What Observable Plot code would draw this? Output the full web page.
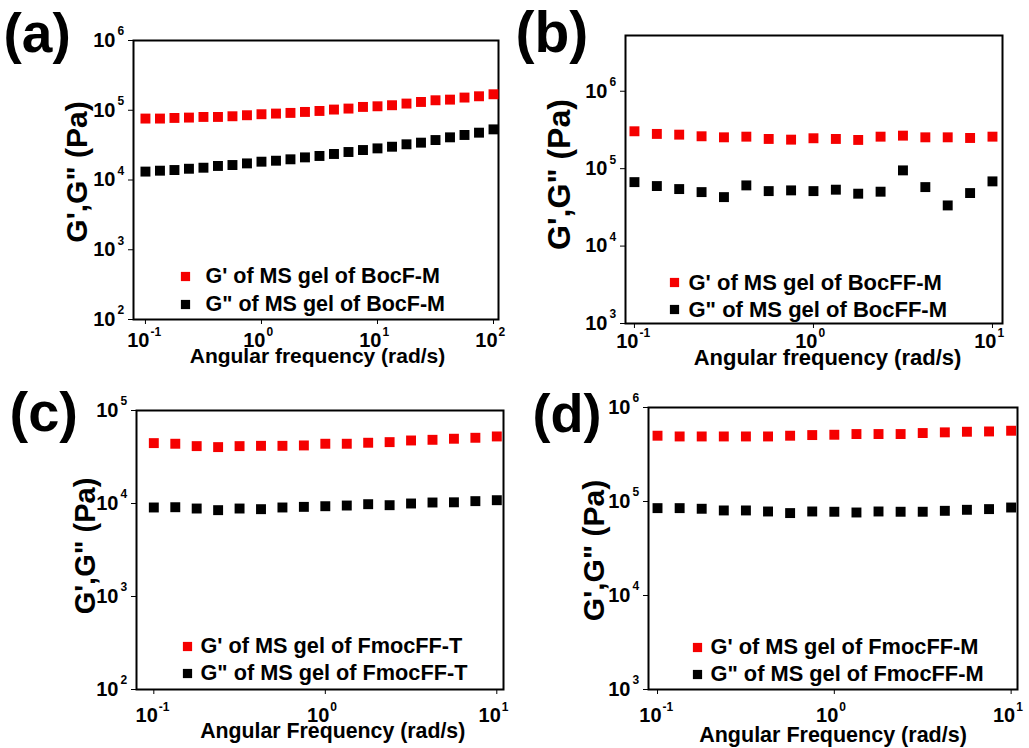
<!DOCTYPE html>
<html><head><meta charset="utf-8">
<script src="https://cdn.jsdelivr.net/npm/d3@7"></script>
<script src="https://cdn.jsdelivr.net/npm/@observablehq/plot@0.6"></script>
<style>
html,body{margin:0;padding:0;background:#fff;}
#root{position:relative;width:1029px;height:748px;overflow:hidden;background:#fff;}
.panel{position:absolute;}
</style></head><body><div id="root"></div>
<script>
// ---------- data ----------
const freqA = [0.1,0.1334,0.1778,0.2371,0.3162,0.4217,0.5623,0.7499,1,1.334,1.778,2.371,3.162,4.217,5.623,7.499,10,13.34,17.78,23.71,31.62,42.17,56.23,74.99,100];
const freqBCD = [0.1,0.1334,0.1778,0.2371,0.3162,0.4217,0.5623,0.7499,1,1.334,1.778,2.371,3.162,4.217,5.623,7.499,10];

const gpA  = [76000,76000,77600,78500,80200,80200,82000,84800,87700,89600,91600,94600,97700,102300,105700,111600,114000,118000,124700,131500,139000,142000,152000,158600,169500];
const gppA = [13200,13600,13900,14500,15000,15900,16400,17300,18300,18900,19800,21100,22100,23600,25200,26900,28400,30000,32500,34300,37400,40900,44200,47700,53200];

const gpB  = [304000,281000,275000,262000,254000,259000,242000,237000,247000,242000,235000,259000,267000,254000,254000,249000,259000];
const gppB = [67000,59600,54500,49800,42900,60800,51300,52400,51300,53500,47500,50400,95000,57800,33500,48400,68500];

const gpC  = [44600,43900,41400,40400,41400,41700,41700,42100,43900,43900,45000,45700,47600,48400,49700,50900,52600];
const gppC = [9060,9120,8830,8480,8830,8690,9060,9200,9350,9510,9830,9590,10000,10250,10300,10600,10850];

const gpD  = [501000,492000,492000,492000,492000,492000,501000,509000,513000,522000,522000,522000,535000,544000,552000,556000,566000];
const gppD = [85000,85000,83700,80300,80300,78300,75300,78300,77800,76400,78300,77800,77800,79600,81600,83000,86300];

const xTicksA = [0.1,1,10,100];
const xTicksBCD = [0.1,1,10];
const yTicksA = [1e2,1e3,1e4,1e5,1e6];
const yTicksB = [1e3,1e4,1e5,1e6];
const yTicksC = [1e2,1e3,1e4,1e5];
const yTicksD = [1e3,1e4,1e5,1e6];

const legendA = ["G' of MS gel of BocF-M", "G\" of MS gel of BocF-M"];
const legendB = ["G' of MS gel of BocFF-M", "G\" of MS gel of BocFF-M"];
const legendC = ["G' of MS gel of FmocFF-T", "G\" of MS gel of FmocFF-T"];
const legendD = ["G' of MS gel of FmocFF-M", "G\" of MS gel of FmocFF-M"];

const yTitle = "G',G\" (Pa)";
const xTitleLower = "Angular frequency (rad/s)";
const xTitleUpper = "Angular Frequency (rad/s)";
const panelLabels = ["(a)","(b)","(c)","(d)"];

// ---------- drawing ----------
const FONT = "'Liberation Sans', Arial, Helvetica, sans-serif";
const RED = "#f50000", BLACK = "#000";

function panel(c) {
  const expo = d => { const e = Math.round(Math.log10(d)); return e < 0 ? "-" + (-e) : String(e); };
  const ptsR = c.freq.map((f, i) => ({f, v: c.gp[i]}));
  const ptsK = c.freq.map((f, i) => ({f, v: c.gpp[i]}));
  const bold = {fontWeight: "bold", fontFamily: FONT, fill: "#000"};
  const svg = Plot.plot({
    width: c.W, height: c.H,
    marginLeft: c.mL, marginRight: c.mR, marginTop: c.mT, marginBottom: c.mB,
    style: {fontFamily: FONT, background: "transparent", overflow: "visible"},
    x: {type: "log", domain: c.xDomain, ticks: c.xTicks, tickSize: 5, tickFormat: () => "", label: null},
    y: {type: "log", domain: c.yDomain, ticks: c.yTicks, tickSize: 5, tickFormat: () => "", label: null},
    marks: [
      Plot.frame({stroke: "#000", strokeWidth: 2}),
      Plot.dot(ptsR, {x: "f", y: "v", symbol: "square", r: 5.6, fill: RED, stroke: null}),
      Plot.dot(ptsK, {x: "f", y: "v", symbol: "square", r: 5.6, fill: BLACK, stroke: null}),
      // y tick labels
      Plot.text(c.yTicks, {y: d => d, frameAnchor: "left", text: () => "10", textAnchor: "end", lineAnchor: "middle", dx: -18, fontSize: 20, ...bold}),
      Plot.text(c.yTicks, {y: d => d, frameAnchor: "left", text: expo, textAnchor: "start", lineAnchor: "middle", dx: -16, dy: -9, fontSize: 12, ...bold}),
      // x tick labels
      Plot.text(c.xTicks, {x: d => d, frameAnchor: "bottom", text: () => "10", textAnchor: "end", lineAnchor: "middle", dx: 4, dy: c.xlDy, fontSize: 20, ...bold}),
      Plot.text(c.xTicks, {x: d => d, frameAnchor: "bottom", text: expo, textAnchor: "start", lineAnchor: "middle", dx: 5, dy: c.xlDy - 8.5, fontSize: 12, ...bold}),
      // axis titles
      Plot.text([c.xTitle], {frameAnchor: "bottom", text: d => d, textAnchor: "middle", lineAnchor: "middle", dx: c.xtDx, dy: c.xtDy, fontSize: c.xtSize, ...bold}),
      Plot.text([yTitle], {frameAnchor: "left", text: d => d, textAnchor: "middle", lineAnchor: "middle", rotate: -90, dx: c.ytDx, dy: c.ytDy, fontSize: c.ytSize, ...bold}),
      // legend
      Plot.dot([c.legend[0]], {frameAnchor: "bottom-left", symbol: "square", r: 5.2, fill: RED, stroke: null, dx: c.lgDx, dy: c.lgDy0}),
      Plot.dot([c.legend[1]], {frameAnchor: "bottom-left", symbol: "square", r: 5.2, fill: BLACK, stroke: null, dx: c.lgDx, dy: c.lgDy1}),
      Plot.text([c.legend[0]], {frameAnchor: "bottom-left", text: d => d, textAnchor: "start", lineAnchor: "middle", dx: c.lgTx, dy: c.lgDy0, fontSize: c.lgSize, ...bold}),
      Plot.text([c.legend[1]], {frameAnchor: "bottom-left", text: d => d, textAnchor: "start", lineAnchor: "middle", dx: c.lgTx, dy: c.lgDy1, fontSize: c.lgSize, ...bold}),
      // panel label
      Plot.text([c.label], {frameAnchor: "top-left", text: d => d, textAnchor: "start", lineAnchor: "bottom", dx: c.plDx, dy: c.plDy, fontSize: c.plSize, ...bold})
    ]
  });
  const div = document.createElement("div");
  div.className = "panel";
  div.style.left = c.L + "px";
  div.style.top = c.T + "px";
  div.appendChild(svg);
  document.getElementById("root").appendChild(div);
}

panel({L: 0, T: 0, W: 514, H: 374, mL: 133, mR: 16, mT: 40, mB: 55,
  freq: freqA, gp: gpA, gpp: gppA,
  xDomain: [Math.pow(10, -1.103), Math.pow(10, 2.043)], yDomain: [1e2, 1e6],
  xTicks: xTicksA, yTicks: yTicksA, xlDy: 21.5,
  xTitle: xTitleLower, xtDx: 1.5, xtDy: 37, xtSize: 21,
  ytDx: -56.5, ytDy: -8, ytSize: 30,
  legend: legendA, lgDx: 52, lgTx: 72, lgDy0: -43, lgDy1: -15, lgSize: 21.5,
  label: panelLabels[0], plDx: -130, plDy: 11, plSize: 55});

panel({L: 514, T: 0, W: 515, H: 374, mL: 111, mR: 27, mT: 35, mB: 51,
  freq: freqBCD, gp: gpB, gpp: gppB,
  xDomain: [Math.pow(10, -1.05), Math.pow(10, 1.056)], yDomain: [1e3, Math.pow(10, 6.72)],
  xTicks: xTicksBCD, yTicks: yTicksB, xlDy: 18,
  xTitle: xTitleLower, xtDx: 13.5, xtDy: 34, xtSize: 22,
  ytDx: -65.5, ytDy: -5, ytSize: 32,
  legend: legendB, lgDx: 49, lgTx: 63, lgDy0: -41, lgDy1: -14, lgSize: 22,
  label: panelLabels[1], plDx: -110, plDy: 16, plSize: 57});

panel({L: 0, T: 374, W: 514, H: 374, mL: 136, mR: 11, mT: 36, mB: 59,
  freq: freqBCD, gp: gpC, gpp: gppC,
  xDomain: [Math.pow(10, -1.101), Math.pow(10, 1.039)], yDomain: [1e2, 1e5],
  xTicks: xTicksBCD, yTicks: yTicksC, xlDy: 26,
  xTitle: xTitleUpper, xtDx: 12.7, xtDy: 42, xtSize: 21.3,
  ytDx: -51, ytDy: -4, ytSize: 29,
  legend: legendC, lgDx: 51, lgTx: 64, lgDy0: -43, lgDy1: -16, lgSize: 21.7,
  label: panelLabels[2], plDx: -127, plDy: 20, plSize: 56});

panel({L: 514, T: 374, W: 515, H: 374, mL: 134, mR: 12, mT: 33, mB: 59,
  freq: freqBCD, gp: gpD, gpp: gppD,
  xDomain: [Math.pow(10, -1.051), Math.pow(10, 1.036)], yDomain: [1e3, 1e6],
  xTicks: xTicksBCD, yTicks: yTicksD, xlDy: 26,
  xTitle: xTitleUpper, xtDx: 0, xtDy: 46, xtSize: 21.5,
  ytDx: -54, ytDy: 2, ytSize: 30,
  legend: legendD, lgDx: 49, lgTx: 62, lgDy0: -42, lgDy1: -15, lgSize: 21.8,
  label: panelLabels[3], plDx: -116, plDy: 24, plSize: 54});
</script>
</body></html>
